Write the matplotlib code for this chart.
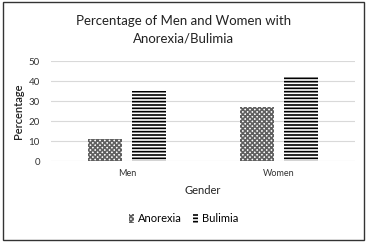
import matplotlib
matplotlib.use("Agg")
import matplotlib.pyplot as plt
import numpy as np
from matplotlib.patches import Rectangle

genders = ["Men", "Women"]
anorexia = [11, 27]
bulimia = [35, 42]
yticks = [0, 10, 20, 30, 40, 50]

plt.rcParams['font.family'] = ['Lato', 'DejaVu Sans']
plt.rcParams['hatch.linewidth'] = 1.2

fig = plt.figure(figsize=(3.67, 2.46), dpi=100)
ax = fig.add_axes([0.139, 0.3455, 0.828, 0.4065])

x = np.arange(len(genders))
w = 0.225
off = 0.145
ax.bar(x - off, anorexia, w, color='white', edgecolor='#606060', hatch='xxxxxxx',
       linewidth=0, label='Anorexia', zorder=3)
ax.bar(x + off, bulimia, w, color='white', edgecolor='black', hatch='-----',
       linewidth=0, label='Bulimia', zorder=3)

ax.set_xlim(-0.5, 1.5)
ax.set_ylim(0, 50)
ax.set_yticks(yticks)
ax.set_xticks(x)
ax.set_xticklabels(genders, fontsize=6.5, color='#333333')
ax.tick_params(axis='y', labelsize=7, colors='#333333', length=0, pad=8)
ax.tick_params(axis='x', length=0, pad=6)
ax.grid(axis='y', color='#d9d9d9', linewidth=0.8, zorder=0)
for s in ax.spines.values():
    s.set_visible(False)

ax.set_ylabel('Percentage', fontsize=8, color='#222222', labelpad=3, fontweight='semibold')
ax.set_xlabel('Gender', fontsize=8, color='#222222', labelpad=5)

fig.text(0.5, 0.878, 'Percentage of Men and Women with\nAnorexia/Bulimia',
         ha='center', va='center', fontsize=9.5, color='#222222', linespacing=1.55)

ax.legend(loc='center', bbox_to_anchor=(0.5, 0.11), bbox_transform=fig.transFigure,
          ncol=2, frameon=False, fontsize=8, handlelength=0.5, handleheight=0.8,
          handletextpad=0.3, columnspacing=1.0)

fig.patches.append(Rectangle((0.008, 0.025), 0.983, 0.965, transform=fig.transFigure,
                             fill=False, edgecolor='#333333', linewidth=1.0))

fig.savefig('out.png', dpi=100)
